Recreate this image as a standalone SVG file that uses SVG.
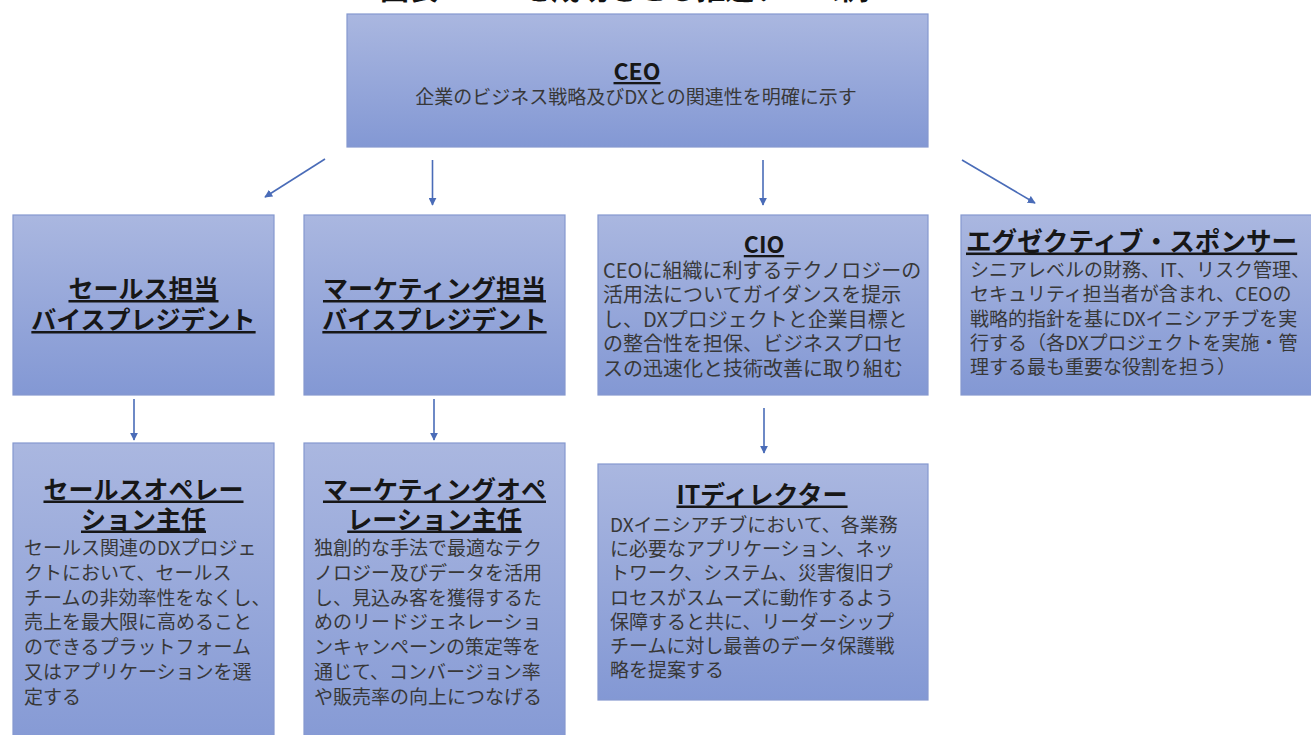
<svg xmlns="http://www.w3.org/2000/svg" width="1311" height="735" viewBox="0 0 1311 735">
  <defs>
    <linearGradient id="boxGrad" x1="0" y1="0" x2="0" y2="1">
      <stop offset="0" stop-color="#aab7e0"/>
      <stop offset="1" stop-color="#8398d4"/>
    </linearGradient>
    <marker id="arrow" viewBox="0 0 10 10" refX="9" refY="5" markerWidth="8" markerHeight="8" markerUnits="userSpaceOnUse" orient="auto">
      <path d="M0,0 L10,5 L0,10 z" fill="#4a6cb8"/>
    </marker>
    <style>
      .box { fill: url(#boxGrad); stroke: #8598cf; stroke-width: 1.2; }
      .title { font-family: "Noto Sans CJK JP", "Noto Sans", sans-serif; font-weight: 700; fill: #171717; text-decoration: underline; }
      .t25 { font-size: 25px; }
      .t23 { font-size: 23px; }
      .body { font-family: "Noto Sans CJK JP", "Noto Sans", sans-serif; font-weight: 400; fill: #383838; font-size: 19px; }
      .b20 { font-size: 20px; }
      .mid { text-anchor: middle; }
      .conn line { stroke: #4a6cb8; stroke-width: 1.6; fill: none; marker-end: url(#arrow); }
      .heading { font-family: "Noto Sans CJK JP", "Noto Sans", sans-serif; font-weight: 700; font-size: 29px; fill: #111111; }
    </style>
  </defs>
  <rect x="0" y="0" width="1311" height="735" fill="#ffffff"/>

  <text class="heading" x="380" y="-0.5">図表1　DXを成功させる推進チーム例</text>

  <g id="ceo">
    <rect class="box" x="347" y="14" width="581" height="133"/>
    <text class="title t23 mid" x="637" y="80">CEO</text>
    <text class="body mid" x="636" y="103.5">企業のビジネス戦略及びDXとの関連性を明確に示す</text>
  </g>

  <g id="sales-vp">
    <rect class="box" x="13" y="215" width="261" height="180"/>
    <text class="title t25 mid" x="143.5" y="298">セールス担当</text>
    <text class="title t25 mid" x="143.5" y="329">バイスプレジデント</text>
  </g>

  <g id="marketing-vp">
    <rect class="box" x="304" y="215" width="261" height="180"/>
    <text class="title t25 mid" x="434.5" y="298">マーケティング担当</text>
    <text class="title t25 mid" x="434.5" y="329">バイスプレジデント</text>
  </g>

  <g id="cio">
    <rect class="box" x="598" y="215" width="330" height="180"/>
    <text class="title t23 mid" x="764" y="253">CIO</text>
    <text class="body b20" x="603" y="277.5">
      <tspan x="603">CEOに組織に利するテクノロジーの</tspan>
      <tspan x="603" dy="24.5">活用法についてガイダンスを提示</tspan>
      <tspan x="603" dy="24.5">し、DXプロジェクトと企業目標と</tspan>
      <tspan x="603" dy="24.5">の整合性を担保、ビジネスプロセ</tspan>
      <tspan x="603" dy="24.5">スの迅速化と技術改善に取り組む</tspan>
    </text>
  </g>

  <g id="executive-sponsor">
    <rect class="box" x="961" y="215" width="370" height="180"/>
    <text class="title t25" x="966" y="250.5" style="font-size:25.6px">エグゼクティブ・スポンサー</text>
    <text class="body" x="970" y="277">
      <tspan x="970">シニアレベルの財務、IT、リスク管理、</tspan>
      <tspan x="970" dy="24.3">セキュリティ担当者が含まれ、CEOの</tspan>
      <tspan x="970" dy="24.3">戦略的指針を基にDXイニシアチブを実</tspan>
      <tspan x="970" dy="24.3">行する（各DXプロジェクトを実施・管</tspan>
      <tspan x="970" dy="24.3">理する最も重要な役割を担う）</tspan>
    </text>
  </g>

  <g id="sales-ops">
    <rect class="box" x="13" y="443" width="261" height="320"/>
    <text class="title t25 mid" x="143.5" y="498.5">セールスオペレー</text>
    <text class="title t25 mid" x="143.5" y="528.5">ション主任</text>
    <text class="body" x="24" y="555">
      <tspan x="24">セールス関連のDXプロジェ</tspan>
      <tspan x="24" dy="24.8">クトにおいて、セールス</tspan>
      <tspan x="24" dy="24.8">チームの非効率性をなくし、</tspan>
      <tspan x="24" dy="24.8">売上を最大限に高めること</tspan>
      <tspan x="24" dy="24.8">のできるプラットフォーム</tspan>
      <tspan x="24" dy="24.8">又はアプリケーションを選</tspan>
      <tspan x="24" dy="24.8">定する</tspan>
    </text>
  </g>

  <g id="marketing-ops">
    <rect class="box" x="304" y="443" width="261" height="320"/>
    <text class="title t25 mid" x="434.5" y="498.5">マーケティングオペ</text>
    <text class="title t25 mid" x="434.5" y="528.5">レーション主任</text>
    <text class="body" x="314" y="555">
      <tspan x="314">独創的な手法で最適なテク</tspan>
      <tspan x="314" dy="24.8">ノロジー及びデータを活用</tspan>
      <tspan x="314" dy="24.8">し、見込み客を獲得するた</tspan>
      <tspan x="314" dy="24.8">めのリードジェネレーショ</tspan>
      <tspan x="314" dy="24.8">ンキャンペーンの策定等を</tspan>
      <tspan x="314" dy="24.8">通じて、コンバージョン率</tspan>
      <tspan x="314" dy="24.8">や販売率の向上につなげる</tspan>
    </text>
  </g>

  <g id="it-director">
    <rect class="box" x="598" y="464" width="330" height="236"/>
    <text class="title t25 mid" x="762" y="503.5">ITディレクター</text>
    <text class="body" x="610" y="532">
      <tspan x="610">DXイニシアチブにおいて、各業務</tspan>
      <tspan x="610" dy="24.2">に必要なアプリケーション、ネッ</tspan>
      <tspan x="610" dy="24.2">トワーク、システム、災害復旧プ</tspan>
      <tspan x="610" dy="24.2">ロセスがスムーズに動作するよう</tspan>
      <tspan x="610" dy="24.2">保障すると共に、リーダーシップ</tspan>
      <tspan x="610" dy="24.2">チームに対し最善のデータ保護戦</tspan>
      <tspan x="610" dy="24.2">略を提案する</tspan>
    </text>
  </g>

  <g id="connectors" class="conn">
    <line x1="325" y1="159" x2="265" y2="197"/>
    <line x1="432.5" y1="160" x2="432.5" y2="205"/>
    <line x1="763" y1="160" x2="763" y2="205"/>
    <line x1="962" y1="160" x2="1035" y2="203"/>
    <line x1="134" y1="399" x2="134" y2="440"/>
    <line x1="434" y1="399" x2="434" y2="440"/>
    <line x1="764" y1="408" x2="764" y2="453"/>
  </g>
</svg>
